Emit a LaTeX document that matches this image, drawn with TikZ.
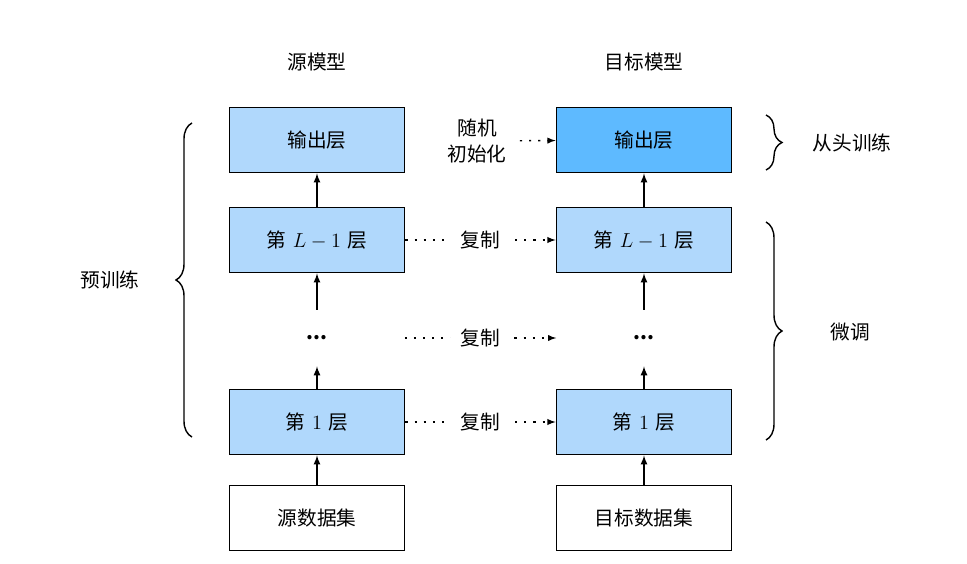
\documentclass[tikz,border=0pt]{standalone}
\usepackage{fontspec}
\setmainfont{Noto Sans CJK SC}
\usetikzlibrary{decorations.pathreplacing}
\definecolor{layerblue}{RGB}{176,216,252}
\definecolor{headblue}{RGB}{94,186,255}
\newcommand{\gapc}{\hspace{0.35em}}
\tikzset{
    layer/.style={draw, line width=1.3pt, fill=layerblue,
        minimum width=4.375cm, minimum height=1.625cm},
    databox/.style={layer, fill=white},
    dotsbox/.style={minimum width=4.375cm, minimum height=1.4cm},
    copyline/.style={line width=1pt, dash pattern=on 1.5pt off 5pt},
    upline/.style={->, line width=1.2pt},
    bracebig/.style={decorate, line width=1pt,
        decoration={brace, amplitude=0.4cm}}
}
\begin{document}
\begin{tikzpicture}[x=0.025cm, y=-0.025cm, >=latex,
        every node/.style={font=\fontsize{14}{19}\selectfont}]
    \useasboundingbox (0, 0) rectangle (967, 564);

    % titles
    \node (srctitle) at (317, 62) {源模型};
    \node (tgttitle) at (644, 62) {目标模型};

    % source model
    \node[layer] (sout) at (317, 140) {输出层};
    \node[layer] (slast) at (317, 240) {第{\gapc}$L-1${\gapc}层};
    \node[dotsbox] (sdots) at (317, 338) {\textbf{...}};
    \node[layer] (sfirst) at (317, 422) {第{\gapc}$1${\gapc}层};
    \node[databox] (sdata) at (317, 518) {源数据集};

    % target model
    \node[layer, fill=headblue] (tout) at (644, 140) {输出层};
    \node[layer] (tlast) at (644, 240) {第{\gapc}$L-1${\gapc}层};
    \node[dotsbox] (tdots) at (644, 338) {\textbf{...}};
    \node[layer] (tfirst) at (644, 422) {第{\gapc}$1${\gapc}层};
    \node[databox] (tdata) at (644, 518) {目标数据集};

    % forward arrows
    \draw[upline] (sdata) -- (sfirst); \draw[upline] (sfirst) -- (sdots);
    \draw[upline] (sdots) -- (slast); \draw[upline] (slast) -- (sout);
    \draw[upline] (tdata) -- (tfirst); \draw[upline] (tfirst) -- (tdots);
    \draw[upline] (tdots) -- (tlast); \draw[upline] (tlast) -- (tout);

    % copied parameters
    \node[align=center] (randinit) at (477, 141) {随机\\初始化};
    \draw[copyline, ->, shorten <=6pt] (randinit) -- (tout);
    \draw[copyline, ->] (slast) -- node[fill=white, inner sep=7pt] {复制} (tlast);
    \draw[copyline, ->] (sdots) -- node[fill=white, inner sep=7pt] {复制} (tdots);
    \draw[copyline, ->] (sfirst) -- node[fill=white, inner sep=7pt] {复制} (tfirst);

    % braces
    \coordinate (pretop) at (192, 123); \coordinate (prebot) at (192, 437);
    \draw[bracebig] (prebot) -- (pretop);
    \node (pretrain) at (110, 280) {预训练};
    \coordinate (headtop) at (766, 115); \coordinate (headbot) at (766, 170);
    \draw[bracebig] (headtop) -- (headbot);
    \node (scratch) at (852, 143) {从头训练};
    \coordinate (tunetop) at (766, 222); \coordinate (tunebot) at (766, 440);
    \draw[bracebig] (tunetop) -- (tunebot);
    \node (finetune) at (850, 332) {微调};
\end{tikzpicture}
\end{document}
